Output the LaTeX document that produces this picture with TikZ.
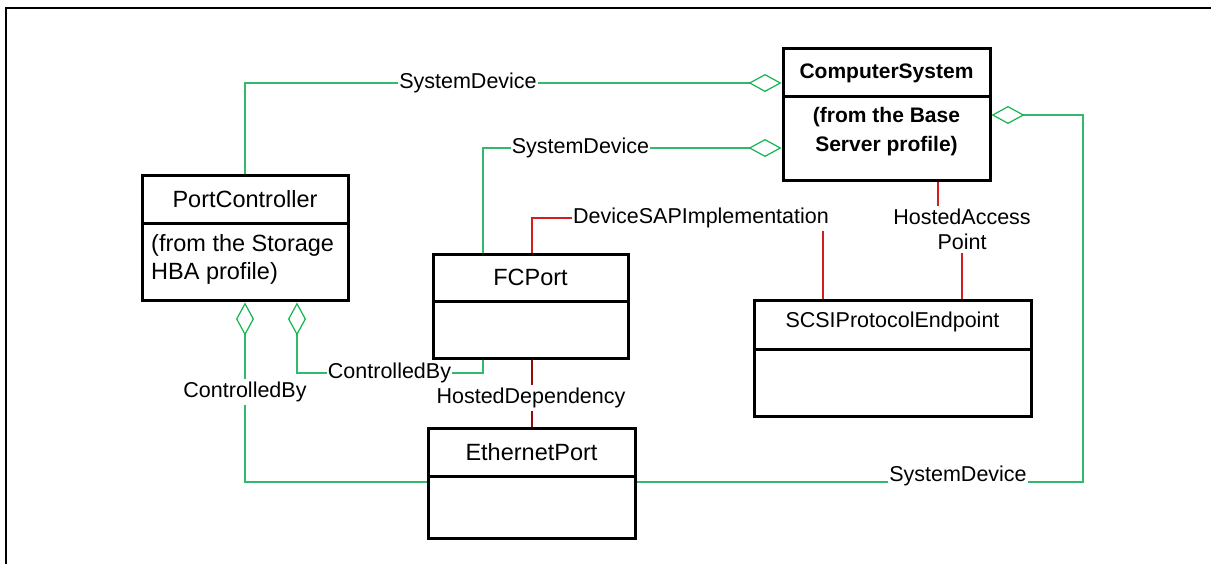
\documentclass[tikz,border=0pt]{standalone}
\usepackage{fontspec}
\setmainfont{Liberation Sans}
\usetikzlibrary{arrows.meta}
\definecolor{lgreen}{RGB}{50,185,110}
\definecolor{dgreen}{RGB}{20,180,80}
\definecolor{lred}{RGB}{210,30,30}
\definecolor{dred}{RGB}{150,10,10}
\begin{document}
\begin{tikzpicture}[x=1pt,y=-1pt,
  classbox/.style={draw, line width=3pt, inner sep=0pt},
  divider/.style={line width=3pt},
  ctitle/.style={inner sep=0pt, font=\fontsize{23.5}{27}\selectfont},
  cbody/.style={inner sep=0pt, align=left, font=\fontsize{23.5}{27.5}\selectfont},
  lbl/.style={fill=white, inner xsep=1pt, inner ysep=3pt, font=\fontsize{21.5}{25}\selectfont},
  assoc/.style={draw=lgreen, line width=1.2pt},
  agg/.style={assoc, {Diamond[open,length=33pt,width=18pt,line width=1.2pt,color=dgreen]}-},
  redA/.style={draw=lred, line width=1.3pt},
  redB/.style={draw=dred, line width=1.2pt}]
\useasboundingbox (0,0) rectangle (1211,564);
\clip (0,0) rectangle (1211,564);
% frame
\draw[line width=2.5pt] (1230,8) -- (6,8) -- (6,580);
% classes
\node[classbox, minimum width=207pt, minimum height=132pt] (cs) at (886.5,115) {};
\draw[divider] (cs.west |- 0,97) -- (cs.east |- 0,97);
\node[ctitle, font=\fontsize{21}{25}\selectfont\bfseries] (cst) at (886.5,73) {ComputerSystem};
\node[inner sep=0pt, align=center, font=\fontsize{21}{29}\selectfont\bfseries] (csb) at (886.5,132) {(from the Base\\Server profile)};

\node[classbox, minimum width=206pt, minimum height=125pt] (pc) at (245,238.5) {};
\draw[divider] (pc.west |- 0,224) -- (pc.east |- 0,224);
\node[ctitle] (pct) at (245,199) {PortController};
\node[cbody, anchor=west] (pcb) at (151,259.5) {(from the Storage\\HBA profile)};

\node[classbox, minimum width=195pt, minimum height=103pt] (fc) at (530.5,306.5) {};
\draw[divider] (fc.west |- 0,302) -- (fc.east |- 0,302);
\node[ctitle] (fct) at (530.5,277) {FCPort};

\node[classbox, minimum width=277pt, minimum height=115pt] (scsi) at (892.5,358.5) {};
\draw[divider] (scsi.west |- 0,349) -- (scsi.east |- 0,349);
\node[ctitle, font=\fontsize{21.5}{25}\selectfont] (scsit) at (892.5,322) {SCSIProtocolEndpoint};

\node[classbox, minimum width=207pt, minimum height=110pt] (ep) at (531.5,483) {};
\draw[divider] (ep.west |- 0,476) -- (ep.east |- 0,476);
\node[ctitle] (ept) at (531.5,452) {EthernetPort};

% connectors
\draw[agg] (cs.west |- 0,83) -- (pc.north |- 0,83) -- (pc.north);
\node[lbl] (l1) at (468,83) {SystemDevice};

\draw[agg] (cs.west |- 0,148) -- (483,148) -- (fc.north -| 483,0);
\node[lbl] (l2) at (580.5,148) {SystemDevice};

\draw[agg] (cs.east |- 0,115) -- (1083,115) -- (1083,482) -- (ep.east |- 0,482);
\node[lbl, inner ysep=1pt] (l3) at (958,476) {SystemDevice};

\draw[agg] (pc.south) -- (245,482) -- (ep.west |- 0,482);
\node[lbl] (l4) at (245,392) {ControlledBy};

\draw[agg] (pc.south -| 297,0) -- (297,373) -- (483,373) -- (fc.south -| 483,0);
\node[lbl, inner ysep=1pt] (l5) at (389.5,373) {ControlledBy};

\draw[redA] (fc.north -| 532,0) -- (532,218) -- (823,218) -- (scsi.north -| 823,0);
\node[lbl] (l6) at (701,218) {DeviceSAPImplementation};

\draw[redA] (cs.south -| 938,0) -- (938,229) -- (962,229) -- (scsi.north -| 962,0);
\node[lbl, align=center] (l7) at (962,229.5) {HostedAccess\\Point};

\draw[redB] (fc.south -| 532,0) -- (ep.north -| 532,0);
\node[lbl] (l8) at (531,398) {HostedDependency};
\end{tikzpicture}
\end{document}
